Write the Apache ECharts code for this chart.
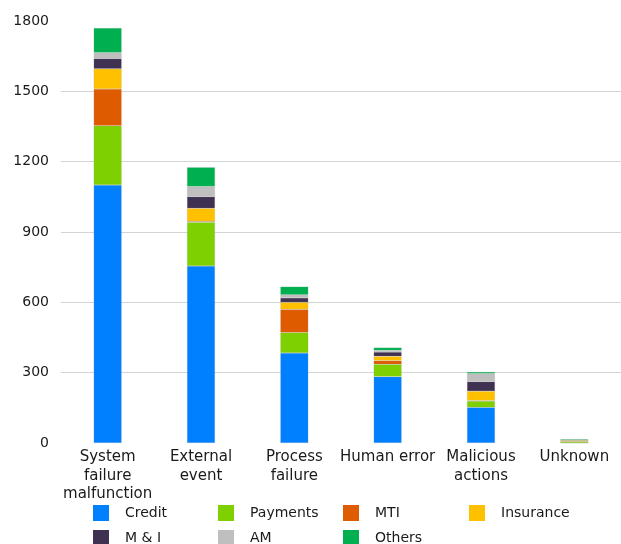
<!DOCTYPE html>
<html><head><meta charset="utf-8">
<script src="https://cdn.jsdelivr.net/npm/echarts@6/dist/echarts.min.js"></script>
<style>html,body{margin:0;padding:0;background:#fff}#c{width:621px;height:544px}</style>
</head><body><div id="c"></div>
<script>
const categories = ['System\nfailure\nmalfunction', 'External\nevent', 'Process\nfailure', 'Human error', 'Malicious\nactions', 'Unknown'];
const yTicks = [0, 300, 600, 900, 1200, 1500, 1800];
const credit    = [1100, 755, 384, 283, 152, 0];
const payments  = [253, 187, 87, 53, 27, 6];
const mti       = [157, 4, 99, 15, 2, 0];
const insurance = [86, 55, 30, 19, 40, 5];
const mi        = [44, 50, 19, 18, 41, 0];
const am        = [25, 43, 13, 7, 34, 1];
const others    = [105, 82, 35, 12, 7, 4];

const seriesDefs = [
  ['Credit', credit, '#0080FF'],
  ['Payments', payments, '#7ED000'],
  ['MTI', mti, '#DE5B00'],
  ['Insurance', insurance, '#FFC000'],
  ['M & I', mi, '#3F3151'],
  ['AM', am, '#BFBFBF'],
  ['Others', others, '#00B050']
];
const legendPos = [[93,505],[218,505],[343,505],[469,505],[93,530],[218,530],[343,530]];

const chart = echarts.init(document.getElementById('c'), null, {renderer:'canvas'});
chart.setOption({
  animation:false,
  backgroundColor:'#fff',
  textStyle:{fontFamily:'DejaVu Sans'},
  grid:{left:61, right:-8, top:21, bottom:101, containLabel:false},
  xAxis:{type:'category', data:categories,
    axisLine:{show:false}, axisTick:{show:false},
    axisLabel:{fontSize:15, color:'#1a1a1a', lineHeight:18.5, margin:5, interval:0, fontFamily:'DejaVu Sans'}},
  yAxis:{type:'value', min:yTicks[0], max:yTicks[yTicks.length-1], interval:300,
    axisLine:{show:false}, axisTick:{show:false},
    axisLabel:{fontSize:14, color:'#1a1a1a', margin:12, fontFamily:'DejaVu Sans', formatter:v=>String(v)},
    splitLine:{show:true, showMinLine:false, showMaxLine:false, lineStyle:{color:'#d4d4d4', width:1}}},
  legend: seriesDefs.map((s,i)=>({data:[s[0]], left:legendPos[i][0], top:legendPos[i][1],
    itemWidth:16, itemHeight:16, itemGap:0, itemStyle:{borderWidth:0},
    textStyle:{fontSize:14, color:'#1a1a1a', fontFamily:'DejaVu Sans', padding:[0,0,0,11]}, padding:0, icon:'rect'})),
  series: seriesDefs.map(s=>({name:s[0], type:'bar', stack:'all', data:s[1], barWidth:28,
    itemStyle:{color:s[2], borderColor:'rgba(160,160,160,0.35)', borderWidth:0.5}}))
});
</script></body></html>
